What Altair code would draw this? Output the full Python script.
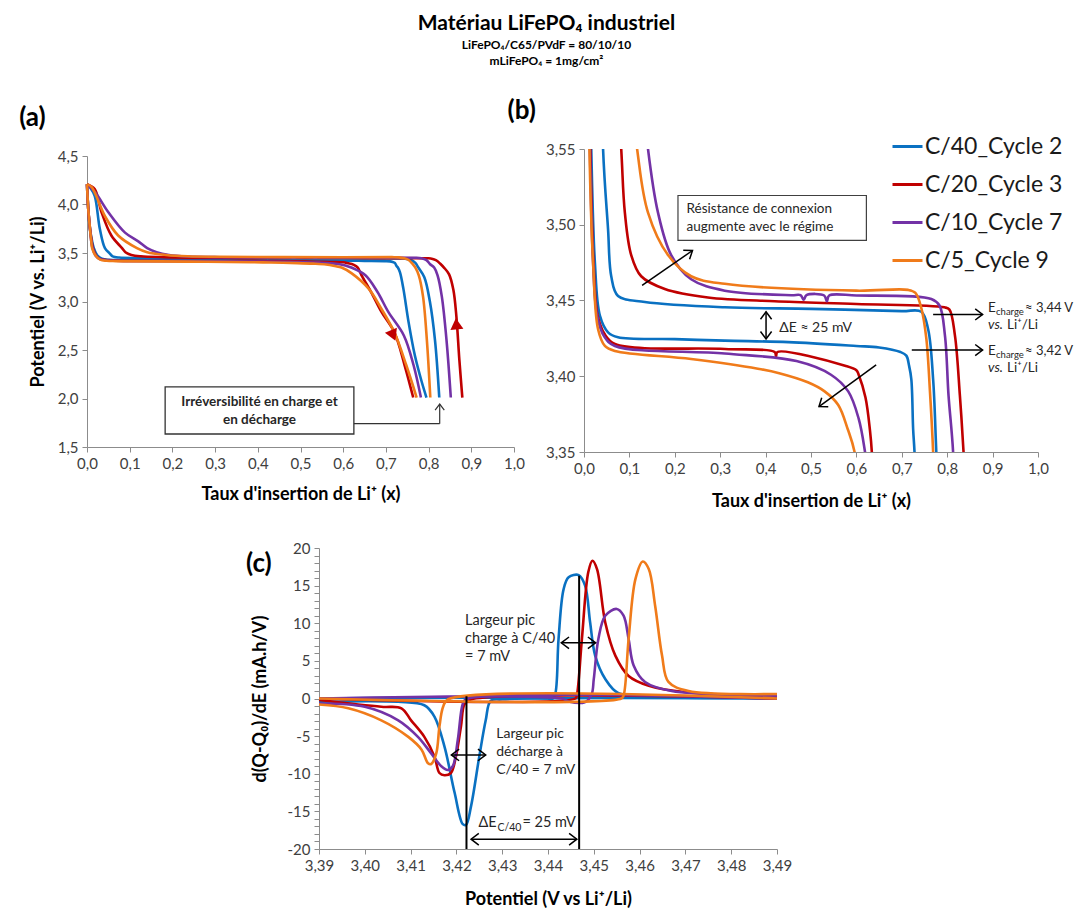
import math
import altair as alt
import pandas as pd

FONT = "Lato"
SERIES = ["C/40_Cycle 2", "C/20_Cycle 3", "C/10_Cycle 7", "C/5_Cycle 9"]
COLORS = ["#0A71C2", "#C00000", "#7332A6", "#F07B1A"]

# ---------- galvanostatic curves : (taux d'insertion x, potentiel V) ----------
C40_DIS = [(0.0, 4.21), (0.003, 3.95), (0.007, 3.75), (0.012, 3.62), (0.016, 3.55), (0.024, 3.475),
           (0.035, 3.44), (0.053, 3.429), (0.075, 3.4257), (0.2, 3.4245), (0.31, 3.4235), (0.45, 3.4225),
           (0.6, 3.42), (0.65, 3.419), (0.697, 3.416), (0.71, 3.4136), (0.716, 3.407), (0.721, 3.398),
           (0.725, 3.365), (0.728, 3.35), (0.733, 3.30), (0.741, 3.13), (0.753, 2.79), (0.768, 2.44),
           (0.784, 2.17), (0.795, 2.01)]
C40_CHG = [(0.825, 2.01), (0.815, 2.6), (0.803, 3.0), (0.79, 3.25), (0.776, 3.35), (0.769, 3.398),
           (0.758, 3.431), (0.743, 3.4426), (0.7, 3.443), (0.5, 3.4445), (0.31, 3.4455), (0.134, 3.449),
           (0.075, 3.453), (0.06, 3.466), (0.053, 3.497), (0.042, 3.55), (0.03, 3.75), (0.018, 4.09),
           (0.008, 4.17), (0.0, 4.21)]
C20_DIS = [(0.0, 4.21), (0.003, 3.95), (0.007, 3.75), (0.011, 3.62), (0.014, 3.55), (0.021, 3.475),
           (0.03, 3.44), (0.045, 3.428), (0.068, 3.4213), (0.31, 3.418), (0.42, 3.416), (0.423, 3.413),
           (0.426, 3.416), (0.575, 3.407), (0.6, 3.404), (0.605, 3.401), (0.62, 3.386), (0.63, 3.364),
           (0.634, 3.35), (0.643, 3.27), (0.665, 3.10), (0.69, 2.89), (0.72, 2.68), (0.744, 2.34),
           (0.764, 2.01)]
C20_CHG = [(0.879, 2.01), (0.872, 2.4), (0.865, 2.85), (0.858, 3.12), (0.848, 3.28), (0.836, 3.35),
           (0.828, 3.387), (0.817, 3.427), (0.805, 3.444), (0.794, 3.4455), (0.6, 3.4477), (0.42, 3.4495),
           (0.273, 3.452), (0.178, 3.4576), (0.126, 3.466), (0.104, 3.48), (0.09, 3.508), (0.082, 3.55),
           (0.057, 3.68), (0.034, 3.92), (0.018, 4.16), (0.0, 4.21)]
C10_DIS = [(0.0, 4.21), (0.003, 3.95), (0.007, 3.75), (0.01, 3.62), (0.013, 3.55), (0.02, 3.475),
           (0.029, 3.44), (0.045, 3.426), (0.068, 3.42), (0.31, 3.415), (0.468, 3.41), (0.544, 3.401),
           (0.582, 3.39), (0.605, 3.372), (0.619, 3.35), (0.652, 3.27), (0.68, 3.10), (0.706, 2.89),
           (0.742, 2.65), (0.765, 2.34), (0.782, 2.01)]
C10_CHG = [(0.852, 2.01), (0.842, 2.6), (0.831, 3.05), (0.821, 3.27), (0.813, 3.35), (0.803, 3.387),
           (0.795, 3.427), (0.783, 3.4467), (0.765, 3.451), (0.6, 3.4533), (0.54, 3.4533), (0.535, 3.4495),
           (0.529, 3.4533), (0.49, 3.4535), (0.484, 3.4505), (0.477, 3.4535), (0.457, 3.4535),
           (0.31, 3.4565), (0.236, 3.464), (0.192, 3.48), (0.163, 3.508), (0.141, 3.55), (0.12, 3.62),
           (0.089, 3.71), (0.05, 3.92), (0.02, 4.12), (0.0, 4.21)]
C5_DIS = [(0.0, 4.21), (0.003, 3.95), (0.007, 3.75), (0.01, 3.62), (0.012, 3.55), (0.02, 3.475),
          (0.031, 3.431), (0.046, 3.42), (0.068, 3.4167), (0.236, 3.4114), (0.383, 3.405), (0.43, 3.402),
          (0.493, 3.396), (0.53, 3.39), (0.56, 3.381), (0.581, 3.365), (0.596, 3.35), (0.62, 3.29),
          (0.66, 3.13), (0.69, 2.92), (0.72, 2.68), (0.748, 2.34), (0.772, 2.01)]
C5_CHG = [(0.804, 2.01), (0.796, 2.6), (0.787, 3.05), (0.777, 3.27), (0.769, 3.35), (0.762, 3.39),
          (0.754, 3.425), (0.743, 3.445), (0.73, 3.455), (0.714, 3.457), (0.6, 3.4565), (0.31, 3.461),
          (0.236, 3.466), (0.185, 3.48), (0.141, 3.508), (0.117, 3.55), (0.073, 3.68), (0.042, 3.88),
          (0.011, 4.18), (0.0, 4.21)]

# ---------- dQ/dE curves : (E in V, d(Q-Q0)/dE in mA.h/V) ----------
DQ_C40_DIS = [(3.39, -0.44), (3.4073, -0.44), (3.413, -0.9), (3.4152, -2.4), (3.4174, -6.4), (3.4196, -12.5),
              (3.4214, -16.7), (3.4221, -16.8), (3.4232, -14.3), (3.425, -7.7), (3.4264, -2.9),
              (3.4275, -0.3), (3.43, -0.1), (3.49, 0.0)]
DQ_C40_CHG = [(3.39, 0.0), (3.44, 0.0), (3.4408, -0.1), (3.4415, 0.4), (3.4423, 7.9), (3.4434, 14.5),
              (3.4445, 16.1), (3.4467, 16.4), (3.4481, 15.0), (3.4492, 10.1), (3.4503, 5.7), (3.4525, 2.6),
              (3.4554, 0.7), (3.464, 0.2), (3.49, 0.1)]
DQ_C20_DIS = [(3.39, -0.2), (3.4036, -1.1), (3.408, -1.3), (3.4101, -2.9), (3.413, -5.1), (3.4152, -7.7),
              (3.4163, -9.9), (3.4174, -10.2), (3.4188, -9.9), (3.4199, -7.7), (3.421, -3.7),
              (3.4218, -0.7), (3.4232, -0.1), (3.49, 0.0)]
DQ_C20_CHG = [(3.39, 0.0), (3.446, 0.0), (3.4463, 0.4), (3.4474, 7.9), (3.4488, 16.8), (3.4497, 18.3),
              (3.4507, 17.2), (3.4525, 10.1), (3.4547, 5.7), (3.4576, 3.0), (3.462, 1.7), (3.4707, 0.8),
              (3.49, 0.4)]
DQ_C10_DIS = [(3.39, -0.66), (3.40, -1.1), (3.4073, -2.9), (3.4116, -5.1), (3.4145, -7.3), (3.4167, -9.0),
              (3.4181, -9.5), (3.4192, -9.0), (3.4203, -5.5), (3.4214, -0.7), (3.4221, -0.1), (3.49, 0.0)]
DQ_C10_CHG = [(3.39, 0.0), (3.443, 0.0), (3.4445, -0.4), (3.448, -0.5), (3.4495, 0.5), (3.45, 2.6),
              (3.451, 7.9), (3.4525, 11.0), (3.455, 11.9), (3.4565, 11.0), (3.4576, 7.9), (3.4587, 4.4),
              (3.4612, 2.2), (3.467, 1.0), (3.49, 0.4)]
DQ_C5_DIS = [(3.39, -0.8), (3.3964, -1.3), (3.4036, -2.9), (3.4095, -5.1), (3.4124, -6.8), (3.4138, -8.6),
             (3.4145, -8.7), (3.4156, -7.3), (3.4163, -3.7), (3.4171, -1.1), (3.4182, -0.1), (3.49, 0.0)]
DQ_C5_CHG = [(3.39, 0.0), (3.456, 0.0), (3.4565, 0.4), (3.4576, 7.9), (3.4591, 15.9), (3.4607, 18.2),
             (3.462, 17.2), (3.4634, 12.3), (3.4649, 5.7), (3.4663, 2.2), (3.4707, 1.0), (3.49, 0.6)]

# ---------- axes ticks ----------
TICKS_X_AB = [0.0, 0.1, 0.2, 0.3, 0.4, 0.5, 0.6, 0.7, 0.8, 0.9, 1.0]
TICKS_Y_A = [1.5, 2.0, 2.5, 3.0, 3.5, 4.0, 4.5]
TICKS_Y_B = [3.35, 3.40, 3.45, 3.50, 3.55]
TICKS_X_C = [3.39, 3.40, 3.41, 3.42, 3.43, 3.44, 3.45, 3.46, 3.47, 3.48, 3.49]
TICKS_Y_C = list(range(-20, 21))

GALVANO = [(SERIES[0], C40_DIS, C40_CHG), (SERIES[1], C20_DIS, C20_CHG),
           (SERIES[2], C10_DIS, C10_CHG), (SERIES[3], C5_DIS, C5_CHG)]
DQDE = [(SERIES[0], DQ_C40_DIS, DQ_C40_CHG), (SERIES[1], DQ_C20_DIS, DQ_C20_CHG),
        (SERIES[2], DQ_C10_DIS, DQ_C10_CHG), (SERIES[3], DQ_C5_DIS, DQ_C5_CHG)]

# ---------- layout ----------
A_W, A_H, A_TOP = 427, 298, 7
B_W, B_H = 454, 303
C_W, C_H = 458, 301
AB_GAP = 70
A_DOM = ([0, 1], [1.5, 4.5])
B_DOM = ([0, 1], [3.35, 3.55])
C_DOM = ([3.39, 3.49], [-20, 20])

CHEVRON = "M-1,-0.75L0,0L-1,0.75"
COMMA1 = "replace(format(datum.value, '.1f'), '.', ',')"
COMMA2 = "replace(format(datum.value, '.2f'), '.', ',')"
TXT = "#262626"


def curve_df(name, dis, chg):
    rows = []
    for i, (x, y) in enumerate(dis):
        rows.append({"series": name, "branch": "d", "o": i, "x": x, "y": y})
    for i, (x, y) in enumerate(chg):
        rows.append({"series": name, "branch": "c", "o": i, "x": x, "y": y})
    return pd.DataFrame(rows)


def make_enc(xs, ys, xaxis, yaxis):
    def X(f="x"):
        return alt.X(f + ":Q", scale=xs, axis=xaxis)

    def Y(f="y"):
        return alt.Y(f + ":Q", scale=ys, axis=yaxis)
    return X, Y


def text_layer(X, Y, x, y, t, size=14, weight="normal", align="left", dx=0, dy=0, style="normal"):
    df = pd.DataFrame({"x": [x], "y": [y], "t": [t]})
    return alt.Chart(df).mark_text(align=align, baseline="middle", fontSize=size, fontWeight=weight,
                                   font=FONT, color=TXT, dx=dx, dy=dy, fontStyle=style).encode(
        x=X(), y=Y(), text="t:N")


def rule_layer(X, Y, x1, y1, x2, y2, color="black", width=1.5):
    df = pd.DataFrame({"x": [x1], "y": [y1], "x2": [x2], "y2": [y2]})
    return alt.Chart(df).mark_rule(color=color, strokeWidth=width).encode(
        x=X(), y=Y(), x2="x2:Q", y2="y2:Q")


def heads_layer(X, Y, pts, color="black", size=260, width=1.5, shape=CHEVRON, filled=False):
    df = pd.DataFrame(pts, columns=["x", "y", "a"])
    mk = dict(shape=shape, size=size, opacity=1)
    if filled:
        mk.update(filled=True, fill=color, strokeWidth=0)
    else:
        mk.update(filled=False, stroke=color, strokeWidth=width)
    return alt.Chart(df).mark_point(**mk).encode(x=X(), y=Y(), angle=alt.Angle("a:Q", scale=None))


def pix_angle(dom, w, h, x0, y0, x1, y1):
    sx = w / (dom[0][1] - dom[0][0])
    sy = h / (dom[1][1] - dom[1][0])
    return math.degrees(math.atan2(-(y1 - y0) * sy, (x1 - x0) * sx)) % 360


def axis(values, expr, title, **kw):
    return alt.Axis(values=values, labelExpr=expr, title=title, grid=False, **kw)


# ================= panel (a) =================
ax_a = alt.Scale(domain=A_DOM[0], nice=False, zero=False)
ay_a = alt.Scale(domain=A_DOM[1], nice=False, zero=False, rangeMax=A_TOP)
XA, YA = make_enc(ax_a, ay_a,
                  axis(TICKS_X_AB, COMMA1, "Taux d'insertion de Li⁺ (x)", titlePadding=14),
                  axis(TICKS_Y_A, COMMA1, "Potentiel (V vs. Li⁺/Li)", titlePadding=10))
a_layers = []
for (name, dis, chg), col in zip(GALVANO, COLORS):
    a_layers.append(alt.Chart(curve_df(name, dis, chg)).mark_line(
        color=col, strokeWidth=2.6, interpolate="catmull-rom").encode(
        x=XA(), y=YA(), detail="branch:N", order="o:Q"))
a_h = A_H - A_TOP
a_layers.append(heads_layer(XA, YA, [
    (0.717, 2.65, pix_angle(A_DOM, A_W, a_h, 0.69, 2.89, 0.744, 2.34)),
    (0.865, 2.77, pix_angle(A_DOM, A_W, a_h, 0.879, 2.03, 0.861, 2.85))],
    color="#C00000", size=170, shape="triangle-right", filled=True))
# annotation box
box_a = pd.DataFrame({"x": [0.183], "x2": [0.625], "y": [1.634], "y2": [2.119]})
a_layers.append(alt.Chart(box_a).mark_rect(fill="white", stroke="#333333", strokeWidth=1.3).encode(
    x=XA(), x2="x2:Q", y=YA(), y2="y2:Q"))
a_layers.append(text_layer(XA, YA, 0.404, 1.964, "Irréversibilité en charge et", 13.5, "bold", "center"))
a_layers.append(text_layer(XA, YA, 0.404, 1.78, "en décharge", 13.5, "bold", "center"))
a_layers.append(rule_layer(XA, YA, 0.625, 1.74, 0.826, 1.74, color="#333333", width=1.2))
a_layers.append(rule_layer(XA, YA, 0.826, 1.74, 0.826, 1.943, color="#333333", width=1.2))
a_layers.append(heads_layer(XA, YA, [(0.826, 1.943, 270)], color="#333333", size=150, width=1.2))

panel_a = alt.layer(*a_layers).properties(
    width=A_W, height=A_H,
    title=alt.TitleParams("(a)", anchor="start", fontSize=26, fontWeight="bold", font=FONT,
                          color="black", offset=18, dx=-10))

# ================= panel (b) =================
bx = alt.Scale(domain=B_DOM[0], nice=False, zero=False)
by = alt.Scale(domain=B_DOM[1], nice=False, zero=False)
XB, YB = make_enc(bx, by,
                  axis(TICKS_X_AB, COMMA1, "Taux d'insertion de Li⁺ (x)", titlePadding=16),
                  axis(TICKS_Y_B, COMMA2, None))
# the legend is hoisted to the row; its position is given from the row origin (panel a plot corner)
legend_b = alt.Legend(title=None, orient="none", legendX=A_W + AB_GAP + 307, legendY=-19,
                      symbolType="stroke", symbolSize=900, symbolStrokeWidth=3, labelFontSize=23,
                      labelFont=FONT, labelColor="#1a1a1a", rowPadding=9, labelOffset=1, padding=0)
b_layers = []
for name, dis, chg in GALVANO:
    b_layers.append(alt.Chart(curve_df(name, dis, chg)).mark_line(
        strokeWidth=2.6, interpolate="catmull-rom", clip=True).encode(
        x=XB(), y=YB(), detail="branch:N", order="o:Q",
        color=alt.Color("series:N", scale=alt.Scale(domain=SERIES, range=COLORS), legend=legend_b)))
box_b = pd.DataFrame({"x": [0.207], "x2": [0.622], "y": [3.4897], "y2": [3.5193]})
b_layers.append(alt.Chart(box_b).mark_rect(fill="white", stroke="#404040", strokeWidth=1.2).encode(
    x=XB(), x2="x2:Q", y=YB(), y2="y2:Q"))
b_layers.append(text_layer(XB, YB, 0.226, 3.5105, "Résistance de connexion", 13.5))
b_layers.append(text_layer(XB, YB, 0.226, 3.4985, "augmente avec le régime", 13.5))
# arrows
b_layers.append(rule_layer(XB, YB, 0.128, 3.460, 0.239, 3.483))
b_layers.append(rule_layer(XB, YB, 0.6435, 3.4075, 0.5176, 3.380))
b_layers.append(rule_layer(XB, YB, 0.401, 3.4246, 0.401, 3.4425))
b_layers.append(rule_layer(XB, YB, 0.769, 3.4408, 0.878, 3.4408))
b_layers.append(rule_layer(XB, YB, 0.722, 3.4173, 0.878, 3.4173))
b_layers.append(heads_layer(XB, YB, [
    (0.239, 3.483, pix_angle(B_DOM, B_W, B_H, 0.128, 3.460, 0.239, 3.483)),
    (0.5176, 3.380, pix_angle(B_DOM, B_W, B_H, 0.6435, 3.4075, 0.5176, 3.380)),
    (0.401, 3.4425, 270), (0.401, 3.4246, 90),
    (0.878, 3.4408, 0), (0.878, 3.4173, 0)], size=220))
b_layers.append(text_layer(XB, YB, 0.43, 3.432, "ΔE ≈ 25 mV", 14))
for yv, lab in [(3.4452, " ≈ 3,44 V"), (3.4167, " ≈ 3,42 V")]:
    b_layers.append(text_layer(XB, YB, 0.89, yv, "E", 13.5))
    b_layers.append(text_layer(XB, YB, 0.89, yv, "charge", 9.5, dx=8, dy=4))
    b_layers.append(text_layer(XB, YB, 0.89, yv, lab, 13, dx=37))
    b_layers.append(text_layer(XB, YB, 0.89, yv - 0.0114, "vs.", 13.5, style="italic"))
    b_layers.append(text_layer(XB, YB, 0.89, yv - 0.0114, "Li⁺/Li", 13.5, dx=19))

panel_b = alt.layer(*b_layers).properties(
    width=B_W, height=B_H,
    title=alt.TitleParams("(b)", anchor="start", fontSize=26, fontWeight="bold", font=FONT,
                          color="black", offset=18, dx=-38))

# ================= panel (c) =================
cx = alt.Scale(domain=C_DOM[0], nice=False, zero=False)
cy = alt.Scale(domain=C_DOM[1], nice=False, zero=False)
XC, YC = make_enc(cx, cy,
                  axis(TICKS_X_C, COMMA2, "Potentiel (V vs Li⁺/Li)", titlePadding=17),
                  axis(TICKS_Y_C, "datum.value % 5 === 0 ? '' + datum.value : ''",
                       "d(Q-Q₀)/dE (mA.h/V)", titlePadding=18, labelOverlap=False))
c_layers = []
for (name, dis, chg), col in zip(DQDE, COLORS):
    c_layers.append(alt.Chart(curve_df(name, dis, chg)).mark_line(
        color=col, strokeWidth=2.6, interpolate="catmull-rom").encode(
        x=XC(), y=YC(), detail="branch:N", order="o:Q"))
c_layers.append(rule_layer(XC, YC, 3.4222, -20, 3.4222, 0.3, width=2))
c_layers.append(rule_layer(XC, YC, 3.4468, -20, 3.4468, 16.3, width=2))
c_layers.append(rule_layer(XC, YC, 3.4232, -18.7, 3.4463, -18.7))
c_layers.append(rule_layer(XC, YC, 3.4429, 7.4, 3.4504, 7.4))
c_layers.append(rule_layer(XC, YC, 3.4189, -7.5, 3.4264, -7.5))
c_layers.append(heads_layer(XC, YC, [
    (3.4232, -18.7, 180), (3.4463, -18.7, 0),
    (3.4429, 7.4, 180), (3.4504, 7.4, 0),
    (3.4189, -7.5, 180), (3.4264, -7.5, 0)], size=240))
for yv, t in [(10.3, "Largeur pic"), (7.9, "charge à C/40"), (5.5, "= 7 mV")]:
    c_layers.append(text_layer(XC, YC, 3.4219, yv, t, 14.5))
for yv, t in [(-4.7, "Largeur pic"), (-7.1, "décharge à"), (-9.45, "C/40 = 7 mV")]:
    c_layers.append(text_layer(XC, YC, 3.4287, yv, t, 14))
c_layers.append(text_layer(XC, YC, 3.4248, -16.5, "ΔE", 14.5))
c_layers.append(text_layer(XC, YC, 3.4248, -16.5, "C/40", 10.5, dx=19, dy=5))
c_layers.append(text_layer(XC, YC, 3.4248, -16.5, " = 25 mV", 14.5, dx=44))

panel_c = alt.layer(*c_layers).properties(
    width=C_W, height=C_H,
    title=alt.TitleParams("(c)", anchor="start", fontSize=26, fontWeight="bold", font=FONT,
                          color="black", offset=0, dy=36, dx=-5))

spacer = alt.Chart(pd.DataFrame({"v": [0]})).mark_point(opacity=0).encode(
    x=alt.X("v:Q", axis=None), y=alt.Y("v:Q", axis=None)).properties(width=232, height=C_H)

row1 = alt.hconcat(panel_a, panel_b, spacing=AB_GAP, bounds="flush")
row2 = alt.hconcat(spacer, panel_c, spacing=0, bounds="flush")

chart = alt.vconcat(row1, row2, spacing=31).properties(
    padding={"left": 11, "top": 5, "right": 0, "bottom": 0},
    title=alt.TitleParams("Matériau LiFePO₄ industriel",
                          subtitle=["LiFePO₄/C65/PVdF = 80/10/10", "mLiFePO₄ = 1mg/cm²"],
                          anchor="middle", fontSize=21, font=FONT, fontWeight="bold", color="black",
                          subtitleFont=FONT, subtitleFontSize=12, subtitleFontWeight="bold",
                          subtitleColor="black", subtitlePadding=6, subtitleLineHeight=16, offset=31)
).configure(font=FONT).configure_view(stroke=None).configure_axis(
    domainColor="#8C8C8C", tickColor="#8C8C8C", labelColor="#404040", labelFontSize=15,
    titleFontSize=18, titleFontWeight="bold", titleColor="black", labelFont=FONT, titleFont=FONT,
    tickSize=5, labelPadding=4, grid=False, labelFlush=False)

chart.save("out.html", embed_options={"renderer": "svg", "actions": False})
